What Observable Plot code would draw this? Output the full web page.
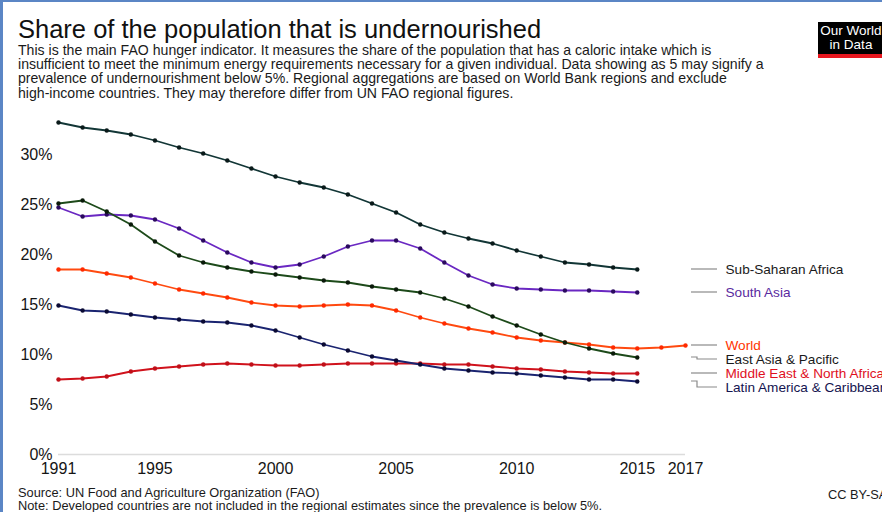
<!DOCTYPE html>
<html><head><meta charset="utf-8">
<script src="https://cdn.jsdelivr.net/npm/d3@7"></script>
<script src="https://cdn.jsdelivr.net/npm/@observablehq/plot@0.6"></script>
<style>
html,body{margin:0;padding:0;background:#fff;overflow:hidden;}
#wrap{position:relative;width:882px;height:512px;overflow:hidden;font-family:"Liberation Sans",Arial,sans-serif;color:#1a1a1a;}
#frame{position:absolute;left:0;top:0;width:882px;height:512px;border-left:3px solid #5b86c5;border-top:2px solid #5b86c5;box-sizing:border-box;}
#title{position:absolute;left:18px;top:15px;font-size:25.5px;line-height:28px;white-space:nowrap;color:#111;}
#sub{position:absolute;left:18px;top:43px;font-size:14.1px;line-height:14.2px;white-space:nowrap;color:#1a1a1a;}
#logo{position:absolute;left:818px;top:22px;width:66px;height:30px;background:#000;border-bottom:4px solid #e8161e;color:#fff;font-size:13.5px;line-height:13.5px;text-align:center;padding-top:2px;box-sizing:content-box;white-space:nowrap;}
#chart{position:absolute;left:0;top:110px;}
#src{position:absolute;left:18px;top:487px;font-size:12.8px;line-height:12.5px;white-space:nowrap;color:#1a1a1a;}
#cc{position:absolute;left:828px;top:487px;font-size:12.8px;white-space:nowrap;color:#1a1a1a;}
</style></head>
<body><div id="wrap">
<div id="frame"></div>
<div id="title">Share of the population that is undernourished</div>
<div id="sub">This is the main FAO hunger indicator. It measures the share of the population that has a caloric intake which is<br>insufficient to meet the minimum energy requirements necessary for a given individual. Data showing as 5 may signify a<br>prevalence of undernourishment below 5%. Regional aggregations are based on World Bank regions and exclude<br>high-income countries. They may therefore differ from UN FAO regional figures.</div>
<div id="logo">Our World<br>in Data</div>
<div id="chart"></div>
<div id="src">Source: UN Food and Agriculture Organization (FAO)<br>Note: Developed countries are not included in the regional estimates since the prevalence is below 5%.</div>
<div id="cc">CC BY-SA</div>
</div>
<script>
const startYear = 1991;
const xTicks = [1991, 1995, 2000, 2005, 2010, 2015, 2017];
const yTicks = [0, 5, 10, 15, 20, 25, 30];

const seriesNames = ["Sub-Saharan Africa", "South Asia", "World", "East Asia & Pacific", "Middle East & North Africa", "Latin America & Caribbean"];
const lineColors = ["#123636", "#6a28c2", "#ff4a10", "#1d4a1a", "#d0121c", "#1a2470"];
const dotColors = ["#0a1a1a", "#2a0a5e", "#ff2a00", "#0a1a0a", "#c00f18", "#0a0a33"];
const labelColors = ["#1a1a1a", "#5a2aa0", "#ff3300", "#1a1a1a", "#e0101e", "#141450"];

const subSaharanAfrica = [33.2, 32.7, 32.4, 32.0, 31.4, 30.7, 30.1, 29.4, 28.6, 27.8, 27.2, 26.7, 26.0, 25.1, 24.2, 23.0, 22.2, 21.6, 21.1, 20.4, 19.8, 19.2, 19.0, 18.7, 18.5];
const southAsia = [24.7, 23.8, 24.0, 23.9, 23.5, 22.6, 21.4, 20.2, 19.2, 18.7, 19.0, 19.8, 20.8, 21.4, 21.4, 20.6, 19.2, 17.9, 17.0, 16.6, 16.5, 16.4, 16.4, 16.3, 16.2];
const world = [18.5, 18.5, 18.1, 17.7, 17.1, 16.5, 16.1, 15.7, 15.2, 14.9, 14.8, 14.9, 15.0, 14.9, 14.4, 13.7, 13.1, 12.6, 12.2, 11.7, 11.4, 11.2, 11.0, 10.7, 10.6, 10.7, 10.9];
const eastAsiaPacific = [25.1, 25.4, 24.3, 23.0, 21.3, 19.9, 19.2, 18.7, 18.3, 18.0, 17.7, 17.4, 17.2, 16.8, 16.5, 16.2, 15.6, 14.8, 13.8, 12.9, 12.0, 11.2, 10.6, 10.1, 9.7];
const middleEastNorthAfrica = [7.5, 7.6, 7.8, 8.3, 8.6, 8.8, 9.0, 9.1, 9.0, 8.9, 8.9, 9.0, 9.1, 9.1, 9.1, 9.1, 9.0, 9.0, 8.8, 8.6, 8.5, 8.3, 8.2, 8.1, 8.1];
const latinAmericaCaribbean = [14.9, 14.4, 14.3, 14.0, 13.7, 13.5, 13.3, 13.2, 12.9, 12.4, 11.7, 11.0, 10.4, 9.8, 9.4, 9.0, 8.6, 8.4, 8.2, 8.1, 7.9, 7.7, 7.5, 7.5, 7.3];

const seriesValues = [subSaharanAfrica, southAsia, world, eastAsiaPacific, middleEastNorthAfrica, latinAmericaCaribbean];

const rows = [];
seriesValues.forEach((vals, i) => vals.forEach((v, j) => rows.push({series: seriesNames[i], idx: i, year: startYear + j, value: v})));

// label placement: end values, nudged down to avoid overlap
const labelGap = 1.4;
const ends = seriesValues.map((vals, i) => ({series: seriesNames[i], idx: i, year: startYear + vals.length - 1, end: vals[vals.length - 1]}));
ends.sort((a, b) => b.end - a.end);
let prev = Infinity;
for (const e of ends) { e.labelY = Math.min(e.end, prev - labelGap); prev = e.labelY; }

function connectors(index, scales, values, dims) {
  const g = d3.create("svg:g").attr("fill", "none").attr("stroke", "#8a8a8a").attr("stroke-width", 1.2);
  const x0 = scales.x(2017);
  for (const e of ends) {
    const y1 = scales.y(e.end), y2 = scales.y(e.labelY);
    const bend = Math.abs(y1 - y2) > 0.5 ? x0 + 12 : x0 + 6;
    g.append("path").attr("d", `M${x0 + 6},${y1}H${bend}V${y2}H${x0 + 32}`);
  }
  return g.node();
}

const marks = [
  Plot.ruleY([0], {stroke: "#dcdcdc", strokeWidth: 1.5}),
];
seriesNames.forEach((name, i) => {
  const d = rows.filter(r => r.idx === i);
  marks.push(Plot.line(d, {x: "year", y: "value", stroke: lineColors[i], strokeWidth: 1.8}));
  marks.push(Plot.dot(d, {x: "year", y: "value", r: 2.2, fill: dotColors[i], stroke: "none"}));
});
marks.push(connectors);
marks.push(Plot.text(ends, {x: () => 2017, y: "labelY", text: "series", dx: 40, textAnchor: "start",
  fill: d => labelColors[d.idx], fontSize: 13.6}));

const chart = Plot.plot({
  width: 882, height: 370,
  marginLeft: 58, marginRight: 197, marginTop: 10, marginBottom: 26,
  style: {fontFamily: "Liberation Sans, Arial, sans-serif", background: "transparent", overflow: "visible"},
  x: {domain: [1991, 2017], ticks: xTicks, tickFormat: d => String(d), tickSize: 0, tickPadding: 8, label: null},
  y: {domain: [0, 33.4], ticks: yTicks, tickFormat: d => d + "%", tickSize: 0, tickPadding: 6, label: null},
  marks
});
chart.querySelectorAll("g[aria-label='x-axis tick label'] text, g[aria-label='y-axis tick label'] text").forEach(t => {
  t.style.fontSize = "16px"; t.style.fill = "#151515";
});
chart.querySelectorAll("g[aria-label='x-axis tick label'], g[aria-label='y-axis tick label']").forEach(g => {
  g.setAttribute("font-size", "16"); g.setAttribute("fill", "#151515");
});
document.getElementById("chart").appendChild(chart);
</script>
</body></html>
